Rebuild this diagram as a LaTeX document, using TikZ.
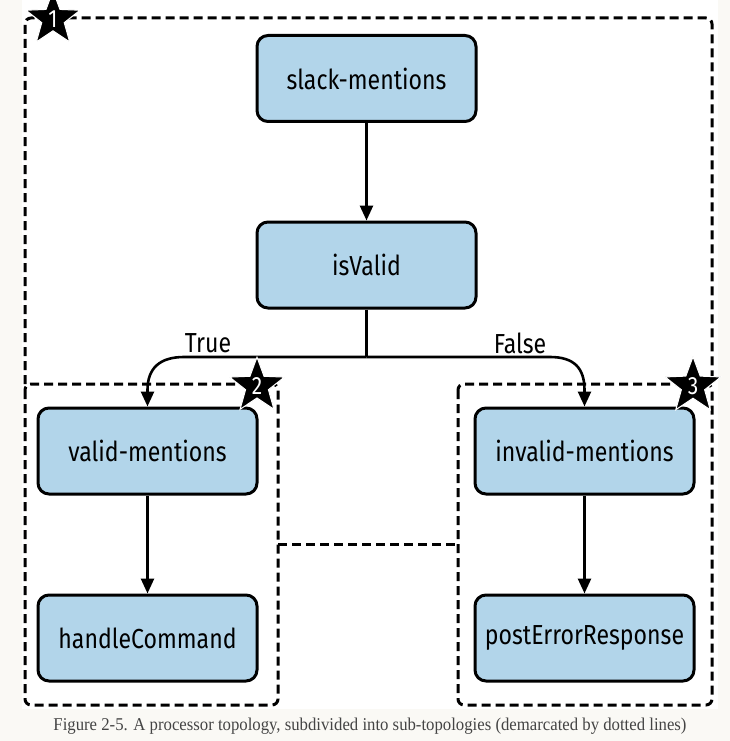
\documentclass[tikz,border=0pt]{standalone}
\usepackage{fontspec}
\setmainfont{Liberation Serif}
\newfontfamily\capfont[FakeStretch=0.93]{Liberation Serif}
\newfontfamily\boxfont[FakeStretch=0.84]{Fira Sans}
\usetikzlibrary{shapes.geometric,arrows.meta}
\definecolor{boxblue}{RGB}{178,213,234}
\definecolor{pagebg}{RGB}{250,249,245}
\definecolor{captiongray}{RGB}{68,68,68}
\tikzset{
  proc/.style={draw=black, line width=3pt, fill=boxblue, rounded corners=11pt,
    minimum width=219pt, minimum height=86pt, inner sep=0pt,
    font=\boxfont\fontsize{27.5}{32}\selectfont},
  conn/.style={line width=2.6pt, -{Triangle[length=15pt,width=13pt]}},
  plainline/.style={line width=2.6pt},
  region/.style={line width=3pt, dash pattern=on 9pt off 5pt, rounded corners=6pt},
  badge/.style={star, star points=5, star point ratio=2.4, fill=black, draw=white,
    line width=1pt, minimum size=50pt, inner sep=0pt, text=white,
    font=\boxfont\fontsize{25}{28}\selectfont},
  lbl/.style={font=\boxfont\fontsize{27.5}{32}\selectfont, inner sep=0pt}
}
\begin{document}
\begin{tikzpicture}[x=1pt,y=-1pt]
\useasboundingbox (0,0) rectangle (730,741);
\fill[pagebg] (0,0) rectangle (730,741);
\fill[white] (22,0) rectangle (718,709);

% region outlines
\draw[region] (25,384) -- (25,18) -- (712,18) -- (712,384);
\draw[region] (25,384) rectangle (278,705);
\draw[region] (458,384) rectangle (712,705);
\draw[region, rounded corners=0pt] (278,544) -- (458,544);

% processors
\node[proc] (slack) at (366.5,78.5) {slack-mentions};
\node[proc] (isvalid) at (366.5,265) {isValid};
\node[proc] (valid) at (147.5,451) {valid-mentions};
\node[proc] (handle) at (147.5,638) {handleCommand};
\node[proc] (invalid) at (584.5,451) {invalid-mentions};
\node[proc] (posterr) at (584.5,638) {postErrorResponse};

% connectors
\draw[conn] (slack) -- (isvalid);
\draw[plainline] (isvalid.south) -- (366.5,357) coordinate (split);
\draw[conn] (split) -- (184,357) .. controls (160,357) and (147.5,368) .. (147.5,390) -- (valid.north);
\draw[conn] (split) -- (550,357) .. controls (574,357) and (584.5,368) .. (584.5,390) -- (invalid.north);
\draw[conn] (valid) -- (handle);
\draw[conn] (invalid) -- (posterr);

% branch labels
\node[lbl] (truelbl) at (208,343) {True};
\node[lbl] (falselbl) at (520,343) {False};

% badges
\node[badge] (b1) at (53,19) {1};
\node[badge] (b2) at (257,386) {2};
\node[badge] (b3) at (693,386) {3};

% caption
\node[text=captiongray, font=\capfont\fontsize{18}{21}\selectfont, inner sep=0pt] (cap) at (370,726)
  {Figure 2-5. A processor topology, subdivided into sub-topologies (demarcated by dotted lines)};
\end{tikzpicture}
\end{document}
